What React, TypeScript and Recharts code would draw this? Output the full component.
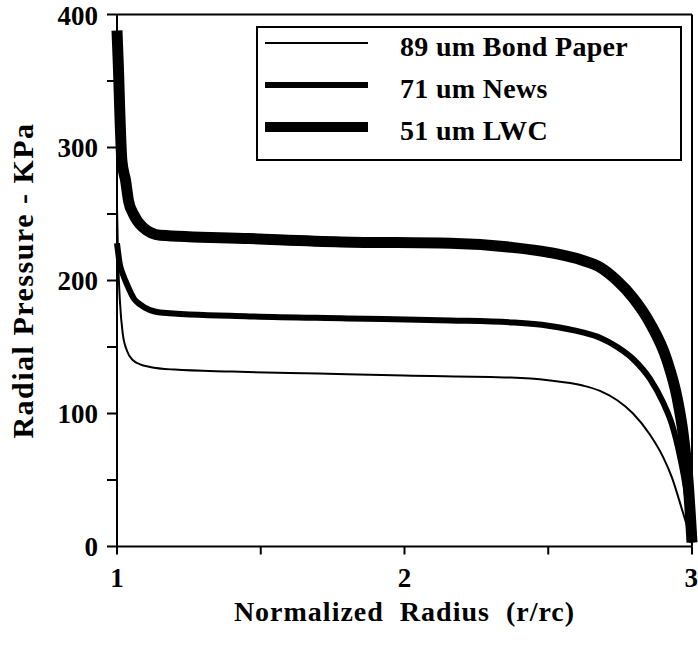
import React from 'react';
import { LineChart, Line, XAxis, YAxis, Legend, ReferenceLine, Label } from 'recharts';

// Normalized radius (r/rc) and radial pressure (KPa) for each paper grade
const bondR = [1.0, 1.004, 1.01, 1.02, 1.035, 1.056, 1.08, 1.115, 1.2, 1.4, 1.7, 2.0, 2.37, 2.5, 2.62, 2.68, 2.74, 2.795, 2.854, 2.9, 2.93, 2.965, 2.99, 3.0];
const bondP = [255, 215, 185, 160, 147, 140, 137, 135, 133, 131.5, 130, 128.5, 127, 125, 121, 117, 110, 100, 84, 67, 52, 28, 10, 2];

const newsR = [1.0, 1.01, 1.02, 1.035, 1.06, 1.08, 1.15, 1.46, 1.8, 2.16, 2.37, 2.5, 2.62, 2.68, 2.74, 2.795, 2.854, 2.9, 2.93, 2.958, 2.98, 3.0];
const newsP = [228, 212, 205, 197, 186, 182, 176, 173, 171.5, 170, 168.5, 166, 161, 157, 150, 141, 126, 108, 92, 68, 42, 3];

const lwcR = [1.0, 1.005, 1.01, 1.017, 1.03, 1.04, 1.057, 1.09, 1.15, 1.46, 1.78, 2.16, 2.37, 2.506, 2.621, 2.68, 2.739, 2.795, 2.854, 2.913, 2.948, 2.969, 2.986, 3.0];
const lwcP = [388, 360, 325, 290, 275, 260, 250, 240, 234, 231.5, 229, 228, 225, 221, 215, 210, 200, 187, 168, 140, 112, 85, 50, 3];

const seriesNames = ['89 um Bond Paper', '71 um News', '51 um LWC'];
const xTicks = [1, 1.5, 2, 2.5, 3];
const yTicks = [0, 50, 100, 150, 200, 250, 300, 350, 400];

const bondData = bondR.map((r, i) => ({ r, p: bondP[i] }));
const newsData = newsR.map((r, i) => ({ r, p: newsP[i] }));
const lwcData = lwcR.map((r, i) => ({ r, p: lwcP[i] }));

const FONT = '"Liberation Serif", "Times New Roman", serif';
const tickStyle = { fill: '#000', fontSize: 27, fontWeight: 'bold', fontFamily: FONT };

const LegendBox = (props: any) => {
  const payload = [...(props.payload || [])].sort(
    (a: any, b: any) => seriesNames.indexOf(a.value) - seriesNames.indexOf(b.value)
  );
  return (
    <div style={{ width: 426, height: 135, border: '2px solid #000', boxSizing: 'border-box', background: '#fff' }}>
      <svg width={422} height={131} style={{ display: 'block' }}>
        {payload.map((e: any, i: number) => {
          const y = 15 + i * 42;
          const sw = e.payload && e.payload.strokeWidth ? e.payload.strokeWidth : 2;
          return (
            <g key={i}>
              <line x1={7} x2={110} y1={y} y2={y} stroke="#000" strokeWidth={Math.min(sw, 10)} />
              <text x={142} y={y + 13} fontFamily={FONT} fontWeight="bold" fontSize={28} letterSpacing={0.3} fill="#000">
                {e.value}
              </text>
            </g>
          );
        })}
      </svg>
    </div>
  );
};

const YLabel = (props: any) => {
  const vb = props.viewBox || { x: 0, y: 0, width: 0, height: 0 };
  const cx = 22;
  const cy = vb.y + vb.height / 2;
  return (
    <text x={cx} y={cy} transform={`rotate(-90 ${cx} ${cy})`} textAnchor="middle" dominantBaseline="central"
      fontFamily={FONT} fontWeight="bold" fontSize={30} letterSpacing={1.5} fill="#000">
      Radial Pressure - KPa
    </text>
  );
};

const XLabel = (props: any) => {
  const vb = props.viewBox || { x: 0, y: 0, width: 0, height: 0 };
  const cx = vb.x + vb.width / 2;
  const cy = vb.y + 74;
  return (
    <text x={cx} y={cy} textAnchor="middle" fontFamily={FONT} fontWeight="bold" fontSize={28} letterSpacing={1}
      fill="#000" style={{ whiteSpace: 'pre' }}>
      {'Normalized  Radius  (r/rc)'}
    </text>
  );
};

export default function App() {
  return (
    <div style={{ position: 'absolute', left: 0, top: 0, width: 698, height: 645, background: '#fff' }}>
      <LineChart width={698} height={645} margin={{ top: 14.5, right: 6, left: 57, bottom: 68.5 }}>
        <XAxis type="number" dataKey="r" domain={[1, 3]} ticks={xTicks} height={30}
          tickFormatter={(v: number) => (Number.isInteger(v) ? String(v) : '')}
          tick={tickStyle} tickSize={8} tickMargin={13}
          axisLine={{ stroke: '#000', strokeWidth: 2 }} tickLine={{ stroke: '#000', strokeWidth: 2 }}>
          <Label content={<XLabel />} />
        </XAxis>
        <YAxis type="number" domain={[0, 400]} ticks={yTicks} width={60}
          tickFormatter={(v: number) => (v % 100 === 0 ? String(v) : '')}
          tick={tickStyle} tickSize={10} tickMargin={9}
          axisLine={{ stroke: '#000', strokeWidth: 2 }} tickLine={{ stroke: '#000', strokeWidth: 2 }}>
          <Label content={<YLabel />} />
        </YAxis>
        <ReferenceLine y={400} stroke="#000" strokeWidth={2} />
        <ReferenceLine x={3} stroke="#000" strokeWidth={2} />
        <Line data={bondData} dataKey="p" name={seriesNames[0]} type="monotone" stroke="#000" strokeWidth={2} dot={false} isAnimationActive={false} />
        <Line data={newsData} dataKey="p" name={seriesNames[1]} type="monotone" stroke="#000" strokeWidth={6} dot={false} isAnimationActive={false} />
        <Line data={lwcData} dataKey="p" name={seriesNames[2]} type="monotone" stroke="#000" strokeWidth={11} dot={false} isAnimationActive={false} />
        <Legend layout="horizontal" verticalAlign="middle" align="center" content={<LegendBox />}
          wrapperStyle={{ position: 'absolute', left: 256, top: 26, width: 426, height: 135 }} />
      </LineChart>
    </div>
  );
}
